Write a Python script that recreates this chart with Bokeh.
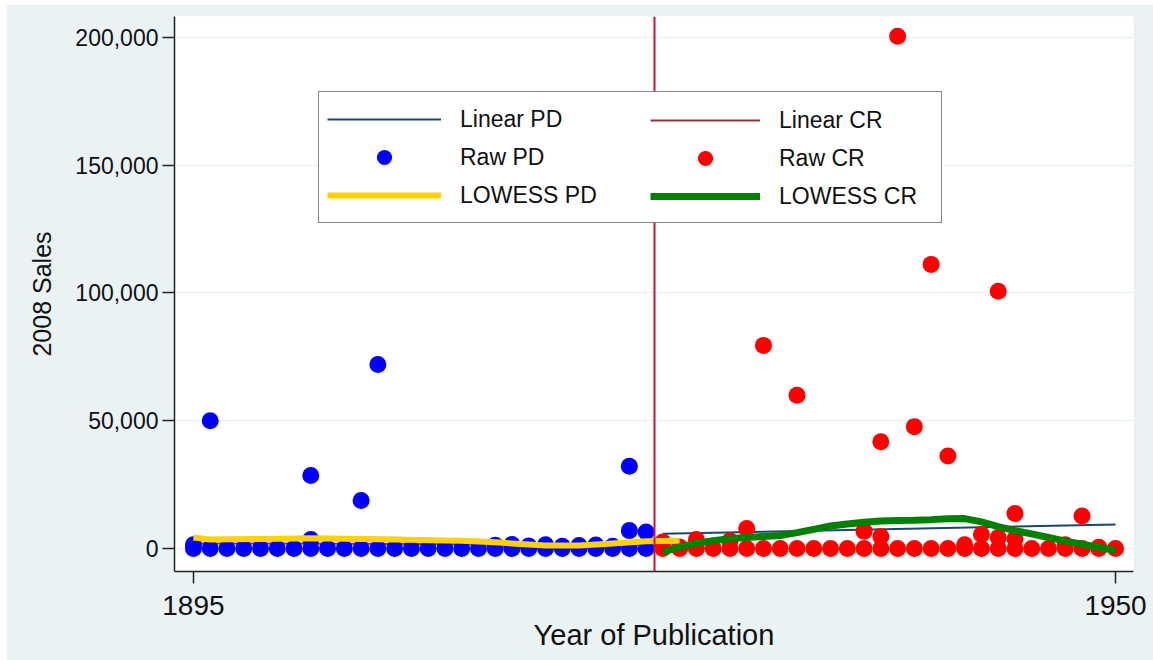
from bokeh.plotting import figure
from bokeh.models import (Range1d, FixedTicker, NumeralTickFormatter, Span,
                          Legend, LegendItem, Spacer)
from bokeh.layouts import column, row
from bokeh.embed import file_html
from bokeh.resources import INLINE

# ---- data -------------------------------------------------------------
# Public-domain titles (published before 1923): year and 2008 sales
pd_year = [1895, 1896, 1897, 1898, 1899, 1900, 1901, 1902, 1903, 1904,
           1905, 1906, 1907, 1908, 1909, 1910, 1911, 1912, 1913, 1914,
           1915, 1916, 1917, 1918, 1919, 1920, 1921, 1922,
           1895, 1896, 1902, 1902, 1905, 1906, 1913, 1914, 1915, 1916,
           1917, 1918, 1919, 1920, 1921, 1921, 1922]
pd_sales = [0, 0, 0, 0, 0, 0, 0, 0, 0, 0,
            0, 0, 0, 0, 0, 0, 0, 0, 0, 0,
            0, 0, 0, 0, 0, 0, 0, 0,
            1500, 50000, 28600, 3500, 18800, 72000, 1300, 1600, 1000, 1500,
            900, 1200, 1400, 900, 32200, 7000, 6500]

# Copyrighted titles (published 1923 and later)
cr_year = [1923, 1924, 1925, 1926, 1927, 1928, 1929, 1930, 1931, 1932,
           1933, 1934, 1935, 1936, 1937, 1938, 1939, 1940, 1941, 1942,
           1943, 1944, 1945, 1946, 1947, 1948, 1949, 1950,
           1923, 1924, 1925, 1927, 1928, 1929, 1931, 1935, 1936, 1936,
           1937, 1938, 1939, 1940, 1941, 1942, 1943, 1943, 1944, 1944,
           1947, 1948, 1949]
cr_sales = [0, 0, 0, 0, 0, 0, 0, 0, 0, 0,
            0, 0, 0, 0, 0, 0, 0, 0, 0, 0,
            0, 0, 0, 0, 0, 0, 0, 0,
            2500, 600, 3500, 3000, 7800, 79500, 60000, 6800, 41800, 4700,
            200500, 47700, 111200, 36200, 1500, 5500, 100700, 4300, 13700, 3800,
            1500, 12700, 500]

# Linear fits
lin_pd_year = [1923, 1950]
lin_pd_sales = [5750, 9400]
lin_cr_year = [1895, 1922]
lin_cr_sales = [2000, 1500]

# LOWESS smooths
lowess_pd_year = [1895, 1896, 1899, 1902, 1907, 1911, 1913, 1916, 1918,
                  1920, 1922, 1924]
lowess_pd_sales = [4300, 3500, 3700, 4000, 3500, 3000, 2400, 1200, 1200,
                   2000, 2800, 3000]
lowess_cr_year = [1923, 1924, 1925, 1926, 1927, 1928, 1929, 1930, 1931,
                  1932, 1933, 1934, 1935, 1936, 1937, 1938, 1939, 1940,
                  1941, 1942, 1943, 1944, 1945, 1946, 1947, 1948, 1949, 1950]
lowess_cr_sales = [-1400, 600, 2100, 3000, 3800, 4300, 4700, 5100, 6200,
                   7500, 8800, 9600, 10300, 10800, 11000, 11100, 11300, 11600,
                   11700, 10400, 8600, 7000, 5700, 4300, 2900, 1700, 500, -800]

cutoff_year = 1922.5
y_ticks = [0, 50000, 100000, 150000, 200000]
x_ticks = [1895, 1950]

# ---- styling ------------------------------------------------------------
BG = "#EAF2F3"
NAVY = "#1A476F"
MAROON = "#90353B"
GOLD = "#FFD200"
GREEN = "#008000"
FONT = "Liberation Sans"

p = figure(width=1147, height=656,
           x_range=Range1d(1893.87, 1951.07),
           y_range=Range1d(-9002, 208219),
           output_backend="svg", toolbar_location=None,
           min_border_left=168, min_border_right=20,
           min_border_top=12, min_border_bottom=89,
           border_fill_color=BG, background_fill_color="white",
           outline_line_color=None)

r_lin_pd = p.line(lin_pd_year, lin_pd_sales, line_color=NAVY, line_width=2)
r_lin_cr = p.line(lin_cr_year, lin_cr_sales, line_color=MAROON, line_width=2)
r_raw_pd = p.scatter(pd_year, pd_sales, size=17, fill_color="#0000FF",
                     line_color=None)
r_raw_cr = p.scatter(cr_year, cr_sales, size=17, fill_color="#FF0000",
                     line_color=None)
r_low_pd = p.line(lowess_pd_year, lowess_pd_sales, line_color=GOLD,
                  line_width=6)
r_low_cr = p.line(lowess_cr_year, lowess_cr_sales, line_color=GREEN,
                  line_width=7)

p.add_layout(Span(location=cutoff_year, dimension="height",
                  line_color="#C8103C", line_width=2))

# axes
p.yaxis.ticker = FixedTicker(ticks=y_ticks)
p.yaxis.formatter = NumeralTickFormatter(format="0,0")
p.xaxis.ticker = FixedTicker(ticks=x_ticks)
for ax in (p.xaxis, p.yaxis):
    ax.axis_line_color = "#222222"
    ax.axis_line_width = 1.5
    ax.major_tick_line_color = "#222222"
    ax.major_tick_line_width = 1.5
    ax.major_tick_out = 12
    ax.major_tick_in = 0
    ax.minor_tick_out = 0
    ax.minor_tick_in = 0
    ax.axis_label_text_font = FONT
    ax.axis_label_text_font_style = "normal"
    ax.axis_label_text_color = "#111111"
    ax.major_label_text_font = FONT
    ax.major_label_text_color = "#111111"

p.yaxis.axis_label = "2008 Sales"
p.yaxis.axis_label_text_font_size = "25px"
p.yaxis.axis_label_standoff = 16
p.yaxis.major_label_text_font_size = "23px"
p.yaxis.major_label_standoff = 4

p.xaxis.axis_label = "Year of Publication"
p.xaxis.axis_label_text_font_size = "29px"
p.xaxis.axis_label_standoff = 1
p.xaxis.major_label_text_font_size = "28px"
p.xaxis.major_label_standoff = 12

p.xgrid.grid_line_color = None
p.ygrid.grid_line_color = BG
p.ygrid.grid_line_width = 1.5

# legend: two columns of three entries inside one framed box
common = dict(glyph_height=38, label_height=38,
              label_standoff=19, spacing=0, padding=8, margin=0,
              label_text_font=FONT, label_text_font_size="23px",
              label_text_color="#111111")
leg_left = Legend(items=[LegendItem(label="Linear PD", renderers=[r_lin_pd]),
                         LegendItem(label="Raw PD", renderers=[r_raw_pd]),
                         LegendItem(label="LOWESS PD", renderers=[r_low_pd])],
                  location=(144, 348), glyph_width=114, label_width=473,
                  border_line_color="#111111", border_line_width=1.5,
                  background_fill_color="white", background_fill_alpha=1.0,
                  **common)
leg_right = Legend(items=[LegendItem(label="Linear CR", renderers=[r_lin_cr]),
                          LegendItem(label="Raw CR", renderers=[r_raw_cr]),
                          LegendItem(label="LOWESS CR", renderers=[r_low_cr])],
                   location=(468, 348), glyph_width=110, label_width=140,
                   border_line_alpha=0, background_fill_alpha=0,
                   **common)
p.add_layout(leg_left)
p.add_layout(leg_right)

page = column(Spacer(height=4), row(Spacer(width=6), p))
open("out.html", "w").write(file_html(page, INLINE))
